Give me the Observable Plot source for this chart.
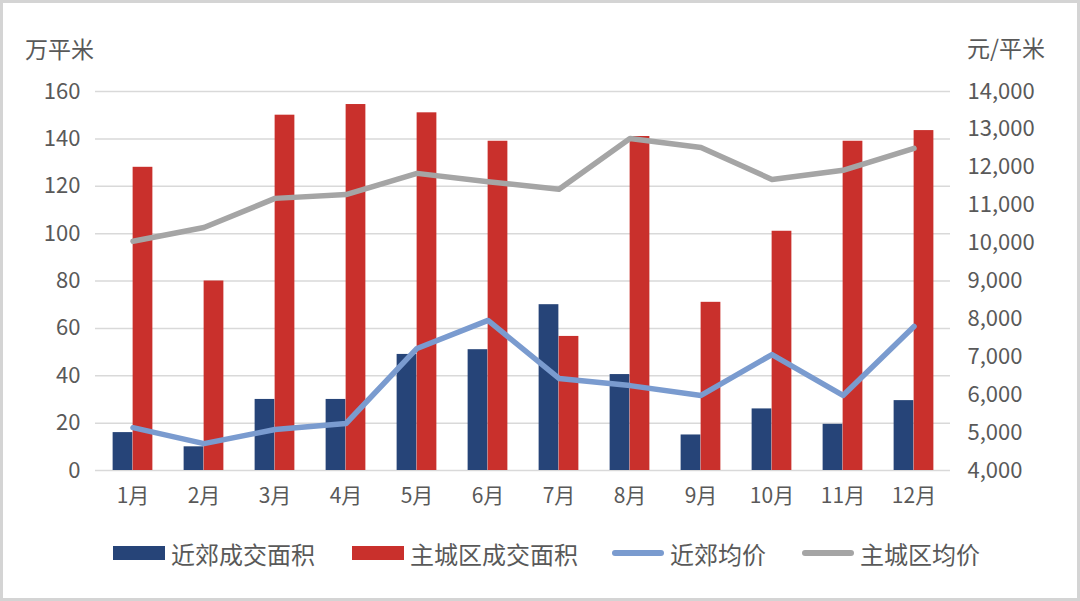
<!DOCTYPE html>
<html>
<head>
<meta charset="utf-8">
<script src="https://cdn.jsdelivr.net/npm/d3@7"></script>
<script src="https://cdn.jsdelivr.net/npm/@observablehq/plot@0.6"></script>
<style>
  html, body { margin: 0; padding: 0; background: #fff; }
  #wrap { position: relative; width: 1080px; height: 601px; overflow: hidden; font-family: "Noto Sans CJK SC", "Noto Sans", sans-serif; color: #595959; }
  #frame { position: absolute; left: 0; top: 0; width: 1080px; height: 601px; box-sizing: border-box; border: 3px solid #d4d4d4; pointer-events: none; }
  .ttl { position: absolute; font-size: 23px; line-height: 1; color: #595959; }
  #legend { position: absolute; left: 0; top: 538px; width: 1080px; height: 30px; }
  .li { position: absolute; top: 0; height: 30px; display: flex; align-items: center; font-size: 24px; color: #595959; }
  .sw { display: inline-block; width: 52px; margin-right: 6px; }
</style>
</head>
<body>
<div id="wrap">
  <div id="chart"></div>
  <div class="ttl" style="left:25px; top:37px;">万平米</div>
  <div class="ttl" style="left:967px; top:36px;">元/平米</div>
  <div id="legend"></div>
  <div id="frame"></div>
</div>
<script>
const months = ["1月","2月","3月","4月","5月","6月","7月","8月","9月","10月","11月","12月"];
const suburbArea = [16, 10, 30, 30, 49, 51, 70, 40.5, 15, 26, 19.5, 29.5];
const mainArea = [128, 80, 150, 154.5, 151, 139, 56.6, 141, 71, 101, 139, 143.5];
const suburbPrice = [5130, 4710, 5080, 5240, 7220, 7960, 6430, 6240, 5980, 7060, 5980, 7800];
const mainPrice = [10050, 10410, 11180, 11280, 11840, 11620, 11420, 12760, 12520, 11680, 11920, 12500];
const leftTicks = [0, 20, 40, 60, 80, 100, 120, 140, 160];
const rightTicks = [4000, 5000, 6000, 7000, 8000, 9000, 10000, 11000, 12000, 13000, 14000];
const seriesNames = ["近郊成交面积", "主城区成交面积", "近郊均价", "主城区均价"];
const colors = ["#264478", "#C9302C", "#7A9BCF", "#A5A5A5"];

const leftMax = 160, rMin = 4000, rMax = 14000;
const toLeft = v => (v - rMin) / (rMax - rMin) * leftMax;
const toRight = v => rMin + v / leftMax * (rMax - rMin);

const rows = months.map((m, i) => ({m, sa: suburbArea[i], ma: mainArea[i], sp: suburbPrice[i], mp: mainPrice[i]}));

const W = 1080, H = 601, ML = 95, MR = 130, MT = 91, MB = 131;
const bw = (W - ML - MR) / months.length;
const barW = 20;
const font = "Noto Sans CJK SC, Noto Sans, sans-serif";

const chart = Plot.plot({
  width: W, height: H,
  marginLeft: ML, marginRight: MR, marginTop: MT, marginBottom: MB,
  style: {fontFamily: font, background: "white", overflow: "visible"},
  x: {type: "band", domain: months, padding: 0},
  y: {domain: [0, leftMax]},
  marks: [
    Plot.ruleY(leftTicks, {stroke: "#d9d9d9", strokeWidth: 1.5}),
    Plot.barY(rows, {x: "m", y: "sa", fill: colors[0], insetLeft: bw/2 - barW, insetRight: bw/2}),
    Plot.barY(rows, {x: "m", y: "ma", fill: colors[1], insetLeft: bw/2, insetRight: bw/2 - barW}),
    Plot.lineY(rows, {x: "m", y: d => toLeft(d.sp), stroke: colors[2], strokeWidth: 5.5, strokeLinejoin: "round"}),
    Plot.lineY(rows, {x: "m", y: d => toLeft(d.mp), stroke: colors[3], strokeWidth: 5.5, strokeLinejoin: "round"}),
    Plot.axisY(leftTicks, {anchor: "left", tickSize: 0, tickPadding: 15, fontSize: 22, fill: "#595959", label: null}),
    Plot.axisY(rightTicks.map(toLeft), {anchor: "right", tickSize: 0, tickPadding: 17, fontSize: 22, fill: "#595959", label: null,
      tickFormat: v => Math.round(toRight(v)).toLocaleString("en-US")}),
    Plot.axisX({anchor: "bottom", tickSize: 0, tickPadding: 18, fontSize: 21, fill: "#595959", label: null})
  ]
});
document.getElementById("chart").appendChild(chart);

const legendPos = [113, 352, 612, 802];
const legend = document.getElementById("legend");
seriesNames.forEach((name, i) => {
  const li = document.createElement("div");
  li.className = "li";
  li.style.left = legendPos[i] + "px";
  const sw = document.createElement("span");
  sw.className = "sw";
  if (i < 2) { sw.style.height = "14px"; sw.style.background = colors[i]; }
  else { sw.style.height = "6px"; sw.style.borderRadius = "3px"; sw.style.background = colors[i]; }
  li.appendChild(sw);
  const t = document.createElement("span");
  t.textContent = name;
  li.appendChild(t);
  legend.appendChild(li);
});
</script>
</body>
</html>
